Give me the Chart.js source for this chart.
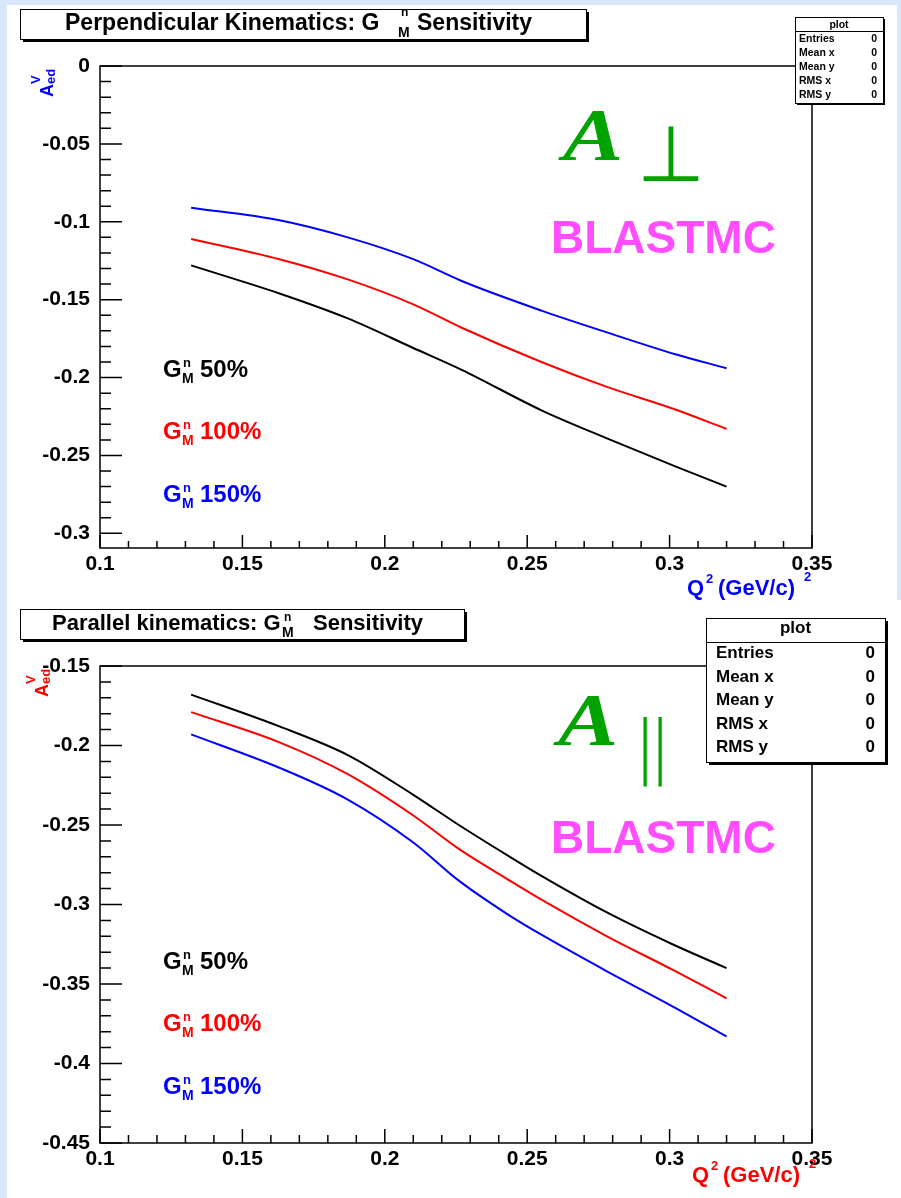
<!DOCTYPE html>
<html>
<head>
<meta charset="utf-8">
<script src="https://cdn.jsdelivr.net/npm/chart.js@4.4.0/dist/chart.umd.min.js"></script>
<style>
html, body { margin: 0; padding: 0; background: #d8e8fa; }
#wrap { position: relative; width: 901px; height: 1198px; overflow: hidden; }
canvas { position: absolute; left: 0; }
</style>
</head>
<body>
<div id="wrap">
<canvas id="perpChart" width="901" height="600" style="top:0px"></canvas>
<canvas id="paraChart" width="901" height="598" style="top:600px"></canvas>
</div>
<script>
// Perpendicular kinematics (top panel)
var perpQ2 = [0.132, 0.163, 0.187, 0.210, 0.227, 0.255, 0.278, 0.302, 0.320];
var perp50 = [-0.128, -0.146, -0.162, -0.181, -0.195, -0.221, -0.239, -0.257, -0.270];
var perp100 = [-0.111, -0.124, -0.137, -0.153, -0.168, -0.190, -0.206, -0.2205, -0.233];
var perp150 = [-0.091, -0.099, -0.110, -0.124, -0.138, -0.157, -0.171, -0.185, -0.194];

// Parallel kinematics (bottom panel)
var paraQ2 = [0.132, 0.163, 0.187, 0.210, 0.226, 0.243, 0.255, 0.278, 0.301, 0.320];
var para50 = [-0.168, -0.188, -0.206, -0.231, -0.250, -0.269, -0.282, -0.305, -0.325, -0.340];
var para100 = [-0.179, -0.198, -0.218, -0.244, -0.265, -0.284, -0.297, -0.320, -0.341, -0.359];
var para150 = [-0.193, -0.214, -0.234, -0.261, -0.285, -0.306, -0.319, -0.342, -0.364, -0.383];

var seriesNames = ['50%', '100%', '150%'];
var seriesColors = ['#000000', '#ff0000', '#0000ff'];
var statNames = ['Entries', 'Mean x', 'Mean y', 'RMS x', 'RMS y'];
var statValues = ['0', '0', '0', '0', '0'];

var xRange = [0.1, 0.35];
var perpYRange = [-0.3094, 0];
var paraYRange = [-0.45, -0.15];

var SANS = '"Liberation Sans", Arial, Helvetica, sans-serif';
var SERIF = '"Liberation Serif", "Times New Roman", serif';

function series(xs, ys, color) {
    return {
        data: xs.map(function (x, i) { return {x: x, y: ys[i]}; }),
        borderColor: color,
        borderWidth: 2,
        pointRadius: 0,
        showLine: true,
        fill: false,
        cubicInterpolationMode: 'monotone'
    };
}

// only every 0.05 gets a label, the 0.01 ticks stay minor
function tickLabel(v) {
    var r = Math.round(v * 100);
    if (Math.abs(v * 100 - r) > 1e-6 || r % 5 !== 0) return '';
    return String(r / 100);
}

function axes(yRange, xHeight) {
    var font = {family: SANS, size: 21, weight: 'bold'};
    return {
        x: {
            type: 'linear', min: xRange[0], max: xRange[1],
            grid: {display: false, drawTicks: false},
            border: {display: false},
            ticks: {stepSize: 0.01, autoSkip: false, maxRotation: 0, minRotation: 0,
                includeBounds: false, padding: 4, color: '#000', font: font, callback: tickLabel},
            afterFit: function (s) { s.height = xHeight; }
        },
        y: {
            type: 'linear', min: yRange[0], max: yRange[1],
            grid: {display: false, drawTicks: false},
            border: {display: false},
            ticks: {stepSize: 0.01, autoSkip: false, includeBounds: false, padding: 10,
                color: '#000', font: font, callback: tickLabel},
            afterFit: function (s) { s.width = 100; }
        }
    };
}

// ROOT style frame with ticks drawn inside
var rootTicks = {
    id: 'rootTicks',
    afterDatasetsDraw: function (chart, args, opts) {
        var ctx = chart.ctx, a = chart.chartArea;
        var xs = chart.scales.x, ys = chart.scales.y;
        ctx.save();
        ctx.strokeStyle = '#000';
        ctx.lineWidth = 1.5;
        ctx.strokeRect(a.left, a.top, a.right - a.left, a.bottom - a.top);
        ctx.beginPath();
        xs.ticks.forEach(function (t) {
            var r = Math.round(t.value * 100);
            if (Math.abs(t.value * 100 - r) > 1e-6) return;
            var px = xs.getPixelForValue(t.value);
            var len = r % 5 === 0 ? opts.xMajor : opts.xMinor;
            ctx.moveTo(px, a.bottom);
            ctx.lineTo(px, a.bottom - len);
        });
        ys.ticks.forEach(function (t) {
            var r = Math.round(t.value * 100);
            if (Math.abs(t.value * 100 - r) > 1e-6) return;
            var py = ys.getPixelForValue(t.value);
            var len = r % 5 === 0 ? opts.yMajor : opts.yMinor;
            ctx.moveTo(a.left, py);
            ctx.lineTo(a.left + len, py);
        });
        ctx.stroke();
        ctx.restore();
    }
};

var pageBg = {
    id: 'pageBg',
    beforeDraw: function (chart, args, opts) {
        var ctx = chart.ctx;
        ctx.save();
        ctx.fillStyle = '#d8e8fa';
        ctx.fillRect(0, 0, chart.width, chart.height);
        ctx.fillStyle = '#ffffff';
        ctx.fillRect(opts.x, opts.y, opts.w, opts.h);
        ctx.restore();
    }
};

function txt(ctx, s, x, y, font, color, align) {
    ctx.font = font;
    ctx.fillStyle = color;
    ctx.textAlign = align || 'left';
    ctx.textBaseline = 'alphabetic';
    ctx.fillText(s, x, y);
}

function pave(ctx, x, y, w, h, sh) {
    ctx.fillStyle = '#000';
    ctx.fillRect(x + sh, y + sh, w, h);
    ctx.fillStyle = '#fff';
    ctx.fillRect(x, y, w, h);
    ctx.strokeStyle = '#000';
    ctx.lineWidth = 1;
    ctx.strokeRect(x + 0.5, y + 0.5, w, h);
}

function statsBox(ctx, b) {
    pave(ctx, b.x, b.y, b.w, b.h, b.sh);
    ctx.beginPath();
    ctx.moveTo(b.x, b.line + 0.5);
    ctx.lineTo(b.x + b.w, b.line + 0.5);
    ctx.stroke();
    var f = 'bold ' + b.size + 'px ' + SANS;
    txt(ctx, 'plot', b.x + b.w / 2, b.head, f, '#000', 'center');
    statNames.forEach(function (n, i) {
        txt(ctx, n, b.labelX, b.rows[i], f, '#000');
        txt(ctx, statValues[i], b.valueX, b.rows[i], f, '#000', 'right');
    });
}

function gmLegend(ctx, x, ys) {
    seriesNames.forEach(function (n, i) {
        var c = seriesColors[i], y = ys[i];
        txt(ctx, 'G', x, y, 'bold 24px ' + SANS, c);
        txt(ctx, 'n', x + 20, y - 10, 'bold 13px ' + SANS, c);
        txt(ctx, 'M', x + 19, y + 6, 'bold 14px ' + SANS, c);
        txt(ctx, n, x + 37, y, 'bold 24px ' + SANS, c);
    });
}

function yTitle(ctx, x, y, color) {
    ctx.save();
    ctx.translate(x, y);
    ctx.rotate(-Math.PI / 2);
    txt(ctx, 'A', 0, 0, 'bold 18px ' + SANS, color);
    txt(ctx, 'V', 13, -13, 'bold 13px ' + SANS, color);
    txt(ctx, 'ed', 13, 2, 'bold 13px ' + SANS, color);
    ctx.restore();
}

function xTitle(ctx, x, y, color) {
    txt(ctx, 'Q', x, y, 'bold 22px ' + SANS, color);
    txt(ctx, '2', x + 19, y - 12, 'bold 13px ' + SANS, color);
    txt(ctx, '(GeV/c)', x + 31, y, 'bold 22px ' + SANS, color);
    txt(ctx, '2', x + 117, y - 14, 'bold 13px ' + SANS, color);
}

// big green italic A, a bit wider than the serif font gives
function bigA(ctx, x, y) {
    ctx.save();
    ctx.translate(x, y);
    ctx.scale(1.22, 1);
    txt(ctx, 'A', 0, 0, 'bold italic 74px ' + SERIF, '#00a300');
    ctx.restore();
}

var perpNotes = {
    id: 'perpNotes',
    afterDraw: function (chart) {
        var ctx = chart.ctx;
        ctx.save();
        pave(ctx, 20, 9, 566, 30, 3);
        txt(ctx, 'Perpendicular Kinematics: G', 65, 30, 'bold 23px ' + SANS, '#000');
        txt(ctx, 'n', 401, 16, 'bold 12px ' + SANS, '#000');
        txt(ctx, 'M', 398, 37, 'bold 14px ' + SANS, '#000');
        txt(ctx, 'Sensitivity', 417, 30, 'bold 23px ' + SANS, '#000');
        statsBox(ctx, {x: 795, y: 17, w: 88, h: 86, sh: 2, line: 31, head: 28, size: 10.5,
            labelX: 799, valueX: 877, rows: [41.5, 55.7, 69.9, 84.1, 98.3]});
        yTitle(ctx, 53, 97, '#0000ff');
        xTitle(ctx, 687, 595, '#0000ff');
        gmLegend(ctx, 163, [377, 439, 502]);
        bigA(ctx, 563, 160);
        txt(ctx, '\u22A5', 671, 181, '200 78px "DejaVu Sans", sans-serif', '#00a300', 'center');
        txt(ctx, 'BLASTMC', 551, 253, 'bold 46px ' + SANS, '#ff4dff');
        ctx.restore();
    }
};

var paraNotes = {
    id: 'paraNotes',
    afterDraw: function (chart) {
        var ctx = chart.ctx;
        ctx.save();
        pave(ctx, 20, 9, 444, 30, 3);
        txt(ctx, 'Parallel kinematics: G', 52, 30, 'bold 22px ' + SANS, '#000');
        txt(ctx, 'n', 284, 21, 'bold 12px ' + SANS, '#000');
        txt(ctx, 'M', 282, 37, 'bold 14px ' + SANS, '#000');
        txt(ctx, 'Sensitivity', 313, 30, 'bold 22px ' + SANS, '#000');
        statsBox(ctx, {x: 706, y: 18, w: 179, h: 144, sh: 3, line: 42, head: 33, size: 17,
            labelX: 716, valueX: 875, rows: [58, 82, 105, 129, 152]});
        yTitle(ctx, 48, 97, '#ff0000');
        xTitle(ctx, 692, 582, '#ff0000');
        gmLegend(ctx, 163, [369, 431, 494]);
        bigA(ctx, 558, 145);
        txt(ctx, '|', 645, 170, '200 70px "DejaVu Sans", sans-serif', '#00a300', 'center');
        txt(ctx, '|', 660, 170, '200 70px "DejaVu Sans", sans-serif', '#00a300', 'center');
        txt(ctx, 'BLASTMC', 551, 253, 'bold 46px ' + SANS, '#ff4dff');
        ctx.restore();
    }
};

function makeChart(id, xs, s50, s100, s150, yRange, xHeight, bg, ticks, notes) {
    return new Chart(document.getElementById(id), {
        type: 'scatter',
        data: {
            datasets: [
                series(xs, s50, seriesColors[0]),
                series(xs, s100, seriesColors[1]),
                series(xs, s150, seriesColors[2])
            ]
        },
        options: {
            responsive: false,
            animation: false,
            devicePixelRatio: 1,
            layout: {padding: {top: 66, right: 89, left: 0, bottom: 0}},
            scales: axes(yRange, xHeight),
            plugins: {
                legend: {display: false},
                tooltip: {enabled: false},
                pageBg: bg,
                rootTicks: ticks
            }
        },
        plugins: [pageBg, rootTicks, notes]
    });
}

var perpChart = makeChart('perpChart', perpQ2, perp50, perp100, perp150, perpYRange, 52,
    {x: 7, y: 5, w: 890, h: 595}, {xMajor: 13, xMinor: 7, yMajor: 22, yMinor: 11}, perpNotes);

var paraChart = makeChart('paraChart', paraQ2, para50, para100, para150, paraYRange, 55,
    {x: 7, y: 0, w: 894, h: 598}, {xMajor: 14, xMinor: 8, yMajor: 22, yMinor: 11}, paraNotes);
</script>
</body>
</html>
